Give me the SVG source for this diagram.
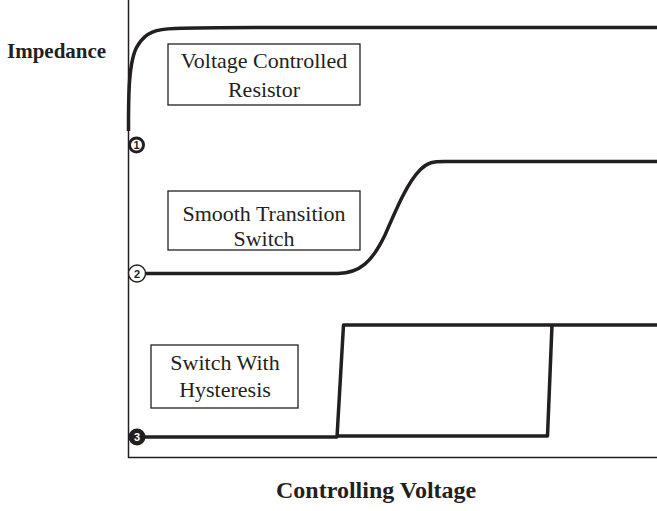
<svg xmlns="http://www.w3.org/2000/svg" width="657" height="511" viewBox="0 0 657 511">
<style>
.axis{fill:none;stroke:#231f20;stroke-width:1.5}
.curve{fill:none;stroke:#231f20;stroke-width:3.5;stroke-linejoin:round}
.box{fill:#fff;stroke:#231f20;stroke-width:1.3}
.lbl{font-family:"Liberation Serif",serif;font-size:22px;fill:#231f20;text-anchor:middle}
.title{font-family:"Liberation Serif",serif;font-weight:bold;fill:#231f20}
.num{font-family:"Liberation Sans",sans-serif;font-size:11px;font-weight:bold;text-anchor:middle}
</style>
<rect width="657" height="511" fill="#fff"/>
<g id="axes">
<path class="axis" d="M128.5,0 V457.5 H657"/>
<text class="title" x="7" y="58" font-size="21">Impedance</text>
<text class="title" x="276" y="498" font-size="24">Controlling Voltage</text>
</g>
<g id="connectors">
<path class="curve" d="M128.5,131 C128.5,100 128,60 138,45 C146,32 156,29 175,28.5 C200,27.5 230,27.5 260,27.5 H657"/>
<path class="curve" d="M145,273.5 H338 C360,273 372,262 385,235 C398,205 408,182 420,170 C428,162 433,161.5 445,161.5 H657"/>
<path class="curve" d="M145,437 H337 L343.5,325 H552 L547.5,436 H337 M552,325 H657"/>
</g>
<g id="node1">
<rect class="box" x="168" y="44" width="192" height="61"/>
<text class="lbl" x="264" y="68">Voltage Controlled</text>
<text class="lbl" x="264" y="97">Resistor</text>
</g>
<g id="node2">
<rect class="box" x="168" y="191" width="192" height="59"/>
<text class="lbl" x="264" y="221">Smooth Transition</text>
<text class="lbl" x="264" y="246">Switch</text>
</g>
<g id="node3">
<rect class="box" x="151" y="345" width="147" height="63"/>
<text class="lbl" x="225" y="370">Switch With</text>
<text class="lbl" x="225" y="397">Hysteresis</text>
</g>
<g id="marker1">
<circle cx="136.5" cy="145" r="7" fill="#fff" stroke="#231f20" stroke-width="3"/>
<text class="num" x="136.5" y="149" fill="#231f20">1</text>
</g>
<g id="marker2">
<circle cx="137" cy="273.5" r="8.5" fill="#fff" stroke="#231f20" stroke-width="1.4"/>
<text class="num" x="137" y="277.5" fill="#231f20">2</text>
</g>
<g id="marker3">
<circle cx="137" cy="437" r="8.5" fill="#231f20"/>
<text class="num" x="137" y="441" fill="#fff">3</text>
</g>
</svg>
